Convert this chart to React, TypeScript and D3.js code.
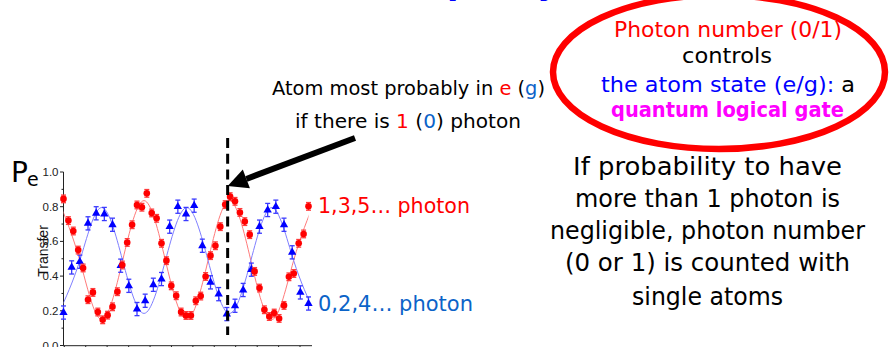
import React from "react";
import * as d3 from "d3";

// Scan positions (arbitrary scan units) and measured transfer probabilities
const redX = [0, 3, 6, 9, 12, 15, 18, 21, 24, 27, 30, 33, 36, 39, 42, 45, 48, 51, 54, 57, 60, 63, 66, 69, 72, 75, 78, 81, 84, 87, 90, 93, 96, 99, 102, 105, 108, 111, 114, 117, 120, 123, 126, 129, 132, 135, 138, 141, 144, 147, 150];
const redY = [0.845, 0.72, 0.66, 0.55, 0.447, 0.264, 0.306, 0.193, 0.148, 0.175, 0.223, 0.31, 0.464, 0.594, 0.696, 0.81, 0.797, 0.877, 0.764, 0.733, 0.589, 0.489, 0.344, 0.287, 0.193, 0.173, 0.173, 0.258, 0.285, 0.398, 0.518, 0.575, 0.685, 0.812, 0.858, 0.831, 0.767, 0.714, 0.639, 0.427, 0.331, 0.206, 0.167, 0.187, 0.156, 0.231, 0.396, 0.415, 0.589, 0.643, 0.802];
const redErr = 0.022;

const blueX = [0, 5, 10, 15, 20, 25, 30, 35, 40, 45, 50, 55, 60, 65, 70, 75, 80, 85, 90, 95, 100, 105, 110, 115, 120, 125, 130, 135, 140, 145, 150];
const blueY = [0.19, 0.45, 0.483, 0.704, 0.762, 0.758, 0.696, 0.46, 0.344, 0.21, 0.258, 0.35, 0.383, 0.685, 0.8, 0.758, 0.806, 0.575, 0.364, 0.296, 0.181, 0.229, 0.32, 0.437, 0.685, 0.781, 0.8, 0.696, 0.537, 0.306, 0.242];
const blueErr = 0.038;

// Sinusoidal fits, sampled at quarter periods
const fitX = [-3, 10, 23.1, 36.2, 49.3, 62.4, 75.5, 88.5, 101.6, 114.7, 127.8, 140.9, 154];
const redFitY = [0.835, 0.49, 0.15, 0.49, 0.835, 0.49, 0.15, 0.49, 0.835, 0.49, 0.15, 0.49, 0.835];
const blueFitY = [0.185, 0.49, 0.795, 0.49, 0.185, 0.49, 0.795, 0.49, 0.185, 0.49, 0.795, 0.49, 0.185];

const yTicks = [0, 0.2, 0.4, 0.6, 0.8, 1.0];
const yMinorTicks = [0.1, 0.3, 0.5, 0.7, 0.9];
const xTicks = [0.5, 13.6, 26.7, 39.9, 53, 66.1, 79.2, 92.3, 105.4, 118.6, 131.7, 144.8];
const markerX = 100.5;

const W = 890;
const H = 347;
const comic = '"Comic Sans MS", "DejaVu Sans", sans-serif';
const axisFont = '"Liberation Sans", Arial, sans-serif';

const RED = "#ff0000";
const BLUE = "#0000ff";
const MID_BLUE = "#0b63c8";

export default function App() {
  const x = d3.scaleLinear().domain([0, 150]).range([63.5, 308.5]);
  const y = d3.scaleLinear().domain([0, 1]).range([345.5, 172]);

  const fitLine = (ys: number[]) =>
    d3
      .line<number>()
      .x((_, i) => x(fitX[i]))
      .y((v) => y(v))
      .curve(d3.curveNatural)(ys) || "";

  const tri = d3.symbol().type(d3.symbolTriangle).size(30)() || "";

  // Arrow pointing at the marked maximum
  const tip: [number, number] = [x(markerX), 186];
  const tail: [number, number] = [355, 138];
  const dx = tail[0] - tip[0];
  const dy = tail[1] - tip[1];
  const len = Math.hypot(dx, dy);
  const ux = dx / len;
  const uy = dy / len;
  const headLen = 20;
  const headHalf = 10;
  const base: [number, number] = [tip[0] + ux * headLen, tip[1] + uy * headLen];
  const head = [
    tip,
    [base[0] - uy * headHalf, base[1] + ux * headHalf],
    [base[0] + uy * headHalf, base[1] - ux * headHalf],
  ];

  return (
    <svg
      width={W}
      height={H}
      viewBox={`0 0 ${W} ${H}`}
      style={{ position: "absolute", left: 0, top: 0, background: "#fff" }}
    >
      <defs>
        <clipPath id="plotClip">
          <rect x={x(0)} y={150} width={x(150) - x(0)} height={200} />
        </clipPath>
      </defs>

      {/* Title, mostly above the frame */}
      <text x={440} y={-8} fontFamily={comic} fontWeight="bold" fontSize={44} fill={BLUE} textAnchor="end">
        Photon
      </text>
      <text x={447} y={-8} fontFamily={comic} fontWeight="bold" fontSize={44} fill={BLUE} textLength={112} lengthAdjust="spacingAndGlyphs">
        parity
      </text>

      {/* Axes */}
      <line x1={63.5} x2={63.5} y1={y(1)} y2={y(0)} stroke="#222" strokeWidth={1} />
      <line x1={63} x2={312} y1={345.7} y2={345.7} stroke="#222" strokeWidth={1} />
      {yTicks.map((t) => (
        <g key={"yt" + t}>
          <line x1={60} x2={63.5} y1={y(t)} y2={y(t)} stroke="#222" strokeWidth={1} />
          <text x={58.5} y={y(t) + 4} textAnchor="end" fontFamily={axisFont} fontSize={11.5} fill="#222">
            {t.toFixed(1)}
          </text>
        </g>
      ))}
      {yMinorTicks.map((t) => (
        <line key={"ym" + t} x1={61.5} x2={63.5} y1={y(t)} y2={y(t)} stroke="#222" strokeWidth={1} />
      ))}
      {xTicks.map((t) => (
        <line key={"xt" + t} x1={x(t)} x2={x(t)} y1={345.7} y2={349} stroke="#222" strokeWidth={1} />
      ))}
      <text
        transform="translate(48,251) rotate(-90)"
        textAnchor="middle"
        fontFamily={axisFont}
        fontSize={14}
        fill="#111"
      >
        Transfer
      </text>

      {/* P_e label */}
      <text x={11} y={182} fontFamily={comic} fontSize={28} fill="#000">
        P
      </text>
      <text x={27} y={186} fontFamily={comic} fontSize={19} fill="#000">
        e
      </text>

      {/* Fitted curves */}
      <g clipPath="url(#plotClip)">
        <path d={fitLine(redFitY)} fill="none" stroke="#ff7a7a" strokeWidth={1} />
        <path d={fitLine(blueFitY)} fill="none" stroke="#7f7fff" strokeWidth={1} />
      </g>

      {/* Blue series: even photon numbers */}
      {blueY.map((v, i) => {
        const cx = x(blueX[i]);
        const y1 = y(v + blueErr);
        const y2 = y(v - blueErr);
        return (
          <g key={"b" + i}>
            <g stroke="#3b3bff" strokeWidth={1.3}>
              <line x1={cx} x2={cx} y1={y1} y2={y2} />
              <line x1={cx - 2.5} x2={cx + 2.5} y1={y1} y2={y1} />
              <line x1={cx - 2.5} x2={cx + 2.5} y1={y2} y2={y2} />
            </g>
            <path d={tri} transform={`translate(${cx},${y(v)})`} fill={BLUE} />
          </g>
        );
      })}

      {/* Red series: odd photon numbers */}
      {redY.map((v, i) => {
        const cx = x(redX[i]);
        const y1 = y(v + redErr);
        const y2 = y(v - redErr);
        return (
          <g key={"r" + i}>
            <g stroke="#ff3a3a" strokeWidth={1.3}>
              <line x1={cx} x2={cx} y1={y1} y2={y2} />
              <line x1={cx - 2.5} x2={cx + 2.5} y1={y1} y2={y1} />
              <line x1={cx - 2.5} x2={cx + 2.5} y1={y2} y2={y2} />
            </g>
            <circle cx={cx} cy={y(v)} r={3.3} fill={RED} />
          </g>
        );
      })}

      {/* Marker line at the maximum */}
      <line
        x1={x(markerX)}
        x2={x(markerX)}
        y1={138}
        y2={335}
        stroke="#000"
        strokeWidth={3}
        strokeDasharray="10 5.7"
      />

      {/* Arrow */}
      <line x1={tail[0]} y1={tail[1]} x2={base[0]} y2={base[1]} stroke="#000" strokeWidth={6} />
      <path d={`M${head.map((p) => p.join(",")).join("L")}Z`} fill="#000" />

      {/* Series labels */}
      <text x={318} y={213} fontFamily={comic} fontSize={22} fill={RED} textLength={152} lengthAdjust="spacingAndGlyphs">
        1,3,5… photon
      </text>
      <text x={318} y={311} fontFamily={comic} fontSize={22} fill={MID_BLUE} textLength={155} lengthAdjust="spacingAndGlyphs">
        0,2,4… photon
      </text>

      {/* Annotation above the arrow */}
      <text x={408.5} y={95} textAnchor="middle" fontFamily={comic} fontSize={19} fill="#000" textLength={273} lengthAdjust="spacingAndGlyphs">
        Atom most probably in <tspan fill={RED}>e</tspan> (<tspan fill={MID_BLUE}>g</tspan>)
      </text>
      <text x={408} y={128} textAnchor="middle" fontFamily={comic} fontSize={19} fill="#000" textLength={226} lengthAdjust="spacingAndGlyphs">
        if there is <tspan fill={RED}>1</tspan> (<tspan fill={MID_BLUE}>0</tspan>) photon
      </text>

      {/* Highlighted statement */}
      <ellipse cx={719} cy={72} rx={166} ry={77} fill="none" stroke={RED} strokeWidth={6.5} />
      <text x={728} y={37} textAnchor="middle" fontFamily={comic} fontSize={22} fill={RED} textLength={228} lengthAdjust="spacingAndGlyphs">
        Photon number (0/1)
      </text>
      <text x={727} y={63} textAnchor="middle" fontFamily={comic} fontSize={22} fill="#000" textLength={90} lengthAdjust="spacingAndGlyphs">
        controls
      </text>
      <text x={728} y={92} textAnchor="middle" fontFamily={comic} fontSize={22} fill={BLUE} textLength={254} lengthAdjust="spacingAndGlyphs">
        the atom state (e/g): <tspan fill="#000">a</tspan>
      </text>
      <text x={727.5} y={117} textAnchor="middle" fontFamily={comic} fontSize={22} fontWeight="bold" fill="#ff00ff" textLength={233} lengthAdjust="spacingAndGlyphs">
        quantum logical gate
      </text>

      {/* Explanation */}
      <g fontFamily={comic} fontSize={24} fill="#000" textAnchor="middle">
        <text x={707.5} y={175} textLength={269} lengthAdjust="spacingAndGlyphs">If probability to have</text>
        <text x={707.5} y={207} textLength={265} lengthAdjust="spacingAndGlyphs">more than 1 photon is</text>
        <text x={707.5} y={239} textLength={315} lengthAdjust="spacingAndGlyphs">negligible, photon number</text>
        <text x={707.5} y={271} textLength={285} lengthAdjust="spacingAndGlyphs">(0 or 1) is counted with</text>
        <text x={707.5} y={305} textLength={151} lengthAdjust="spacingAndGlyphs">single atoms</text>
      </g>
    </svg>
  );
}
